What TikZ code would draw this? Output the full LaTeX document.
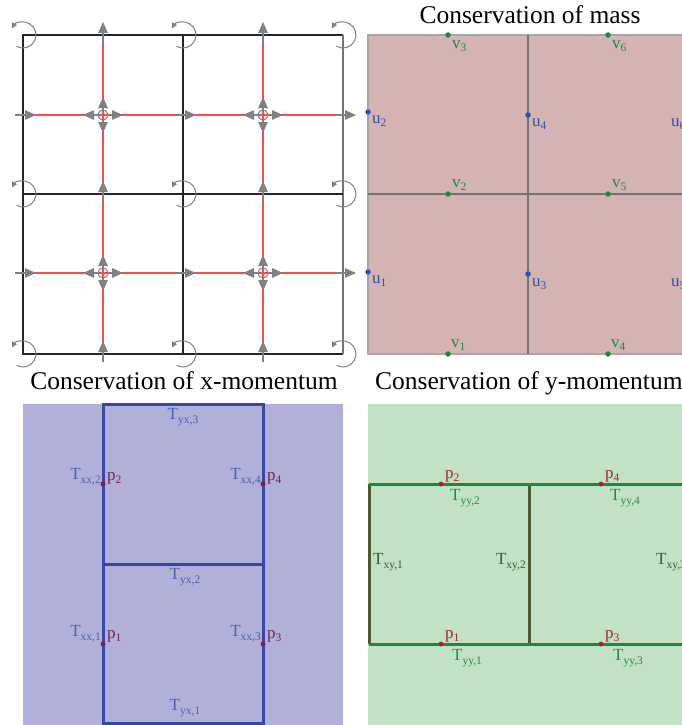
\documentclass[tikz,border=0pt]{standalone}
\usepackage{fontspec}
\setmainfont{Liberation Serif}
\usetikzlibrary{arrows.meta}
\definecolor{redc}{HTML}{FF4A4A}
\definecolor{arrgray}{HTML}{808080}
\definecolor{massfill}{HTML}{D6B3B3}
\definecolor{xfill}{HTML}{B1B0D8}
\definecolor{yfill}{HTML}{C3E1C5}
\definecolor{bluel}{HTML}{3747A8}
\definecolor{greenl}{HTML}{1F8A3C}
\definecolor{olivel}{HTML}{4A5A30}
\definecolor{vcol}{HTML}{1A8A3A}
\definecolor{ucol}{HTML}{3050B0}
\definecolor{pcolx}{HTML}{7A2050}
\definecolor{pcoly}{HTML}{A02828}
\definecolor{tcolx}{HTML}{4A60B0}
\definecolor{tyycol}{HTML}{1E9040}
\definecolor{txycol}{HTML}{4A5530}
\newcommand{\lb}[2]{#1\raisebox{-0.45ex}{\fontsize{11.5}{12}\selectfont #2}}
\begin{document}
\begin{tikzpicture}[x=1pt,y=-1pt,
  redl/.style={draw=redc,line width=1.5pt},
  gridl/.style={draw=black!85,line width=1.6pt},
  earrow/.style={draw=arrgray,line width=1.2pt,-{Triangle[width=9.5pt,length=11pt]}},
  rotarrow/.style={draw=arrgray,line width=1pt,-{Triangle[width=5.5pt,length=5.5pt]}},
  lab/.style={font=\fontsize{17}{19}\selectfont,inner sep=0pt},
  ttl/.style={font=\fontsize{25.5}{28}\selectfont,inner sep=0pt},
  dot/.style={circle,fill,inner sep=0pt,minimum size=5.5pt}]
\useasboundingbox (0,0) rectangle (682,725);
\clip (0,0) rectangle (682,725);
% ---------- top-left grid ----------
\foreach \x in {103,263} \draw[redl] (\x,35) -- (\x,354);
\foreach \y in {115,273} \draw[redl] (23,\y) -- (343,\y);
\draw[gridl] (343,35) -- (23,35) -- (23,354) -- (343,354);
\draw[draw=black!55,line width=1.8pt] (343,35) -- (343,354);
\draw[gridl] (23,194) -- (343,194);
\draw[gridl] (183,35) -- (183,354);
\foreach \x in {103,263} \foreach \y in {35,194,354}
  \draw[earrow] (\x,\y+8) -- (\x,\y-13);
\foreach \x in {23,183,343} \foreach \y in {115,273}
  \draw[earrow] (\x-8,\y) -- (\x+13,\y);
\foreach \x in {103,263} \foreach \y in {115,273} {
  \draw[draw=arrgray,line width=1pt] (\x,\y) circle[radius=5];
  \draw[earrow] (\x,\y-5) -- (\x,\y-18);
  \draw[earrow] (\x,\y+5) -- (\x,\y+18);
  \draw[earrow] (\x-5,\y) -- (\x-20,\y);
  \draw[earrow] (\x+5,\y) -- (\x+20,\y);
}
\foreach \x in {23,183,343} \foreach \y in {35,194,354}
  \draw[rotarrow,shift={(\x,\y)}] (120:13) arc[start angle=120,end angle=-150,radius=13];
% ---------- conservation of mass ----------
\node[ttl] (tmass) at (530,15) {Conservation of mass};
\fill[massfill] (368,35) rectangle (700,354);
\draw[draw=black!35,line width=1.5pt] (700,35) -- (368,35) -- (368,354) -- (700,354);
\draw[draw=black!55,line width=1.5pt] (528,35) -- (528,354);
\draw[draw=black!55,line width=1.5pt] (368,194) -- (700,194);
\foreach \x in {448,608} \foreach \y in {35,194,354}
  \node[dot,vcol] at (\x,\y) {};
\foreach \p in {{368,112},{528,115},{368,272},{528,274}}
  \node[dot,ucol] at (\p) {};
\node[lab,ucol,anchor=west] (u2) at (372,121) {\lb{u}{2}};
\node[lab,ucol,anchor=west] (u4) at (532,124) {\lb{u}{4}};
\node[lab,ucol,anchor=west] (u6) at (671,124) {\lb{u}{6}};
\node[lab,ucol,anchor=west] (u1) at (372,281) {\lb{u}{1}};
\node[lab,ucol,anchor=west] (u3) at (532,284) {\lb{u}{3}};
\node[lab,ucol,anchor=west] (u5) at (671,284) {\lb{u}{5}};
\node[lab,vcol,anchor=west] (v3) at (452,46) {\lb{v}{3}};
\node[lab,vcol,anchor=west] (v6) at (612,46) {\lb{v}{6}};
\node[lab,vcol,anchor=west] (v2) at (452,185) {\lb{v}{2}};
\node[lab,vcol,anchor=west] (v5) at (612,185) {\lb{v}{5}};
\node[lab,vcol,anchor=west] (v1) at (451,345) {\lb{v}{1}};
\node[lab,vcol,anchor=west] (v4) at (611,345) {\lb{v}{4}};
% ---------- conservation of x-momentum ----------
\node[ttl] (txm) at (184,381) {Conservation of x-momentum};
\fill[xfill] (23,404) rectangle (343,730);
\draw[draw=bluel,line width=3pt] (103,730) -- (103,404) -- (263,404) -- (263,730);
\draw[draw=bluel,line width=3pt] (103,564) -- (263,564);
\draw[draw=bluel,line width=3pt] (103,723) -- (263,723);
\foreach \p in {{103,484},{263,484},{103,644},{263,644}}
  \node[dot,pcolx,minimum size=5pt] at (\p) {};
\node[lab,tcolx] (tyx3) at (183,417) {\lb{T}{yx,3}};
\node[lab,tcolx] (tyx2) at (185,577) {\lb{T}{yx,2}};
\node[lab,tcolx] (tyx1) at (185,708) {\lb{T}{yx,1}};
\node[lab,tcolx,anchor=east] (txx2) at (101,477) {\lb{T}{xx,2}};
\node[lab,tcolx,anchor=east] (txx4) at (261,477) {\lb{T}{xx,4}};
\node[lab,tcolx,anchor=east] (txx1) at (101,634) {\lb{T}{xx,1}};
\node[lab,tcolx,anchor=east] (txx3) at (261,634) {\lb{T}{xx,3}};
\node[lab,pcolx,anchor=west] (xp2) at (107,478) {\lb{p}{2}};
\node[lab,pcolx,anchor=west] (xp4) at (267,478) {\lb{p}{4}};
\node[lab,pcolx,anchor=west] (xp1) at (107,636) {\lb{p}{1}};
\node[lab,pcolx,anchor=west] (xp3) at (267,636) {\lb{p}{3}};
% ---------- conservation of y-momentum ----------
\node[ttl,anchor=west] (tym) at (375,383) {Conservation of y-momentum};
\fill[yfill] (368,404) rectangle (700,730);
\foreach \x in {369,529,688} \draw[draw=olivel,line width=3pt] (\x,484) -- (\x,644);
\draw[draw=greenl,line width=3pt] (369,484) -- (700,484);
\draw[draw=greenl,line width=3pt] (369,644) -- (700,644);
\foreach \p in {{441,484},{601,484},{441,644},{601,644}}
  \node[dot,pcoly,minimum size=5pt] at (\p) {};
\node[lab,pcoly,anchor=west] (yp2) at (445,476) {\lb{p}{2}};
\node[lab,pcoly,anchor=west] (yp4) at (605,476) {\lb{p}{4}};
\node[lab,pcoly,anchor=west] (yp1) at (445,636) {\lb{p}{1}};
\node[lab,pcoly,anchor=west] (yp3) at (605,636) {\lb{p}{3}};
\node[lab,tyycol,anchor=west] (tyy2) at (450,498) {\lb{T}{yy,2}};
\node[lab,tyycol,anchor=west] (tyy4) at (610,498) {\lb{T}{yy,4}};
\node[lab,tyycol,anchor=west] (tyy1) at (452,658) {\lb{T}{yy,1}};
\node[lab,tyycol,anchor=west] (tyy3) at (613,658) {\lb{T}{yy,3}};
\node[lab,txycol,anchor=west] (txy1) at (373,562) {\lb{T}{xy,1}};
\node[lab,txycol,anchor=east] (txy2) at (526,562) {\lb{T}{xy,2}};
\node[lab,txycol,anchor=west] (txy3) at (656,562) {\lb{T}{xy,3}};
\end{tikzpicture}
\end{document}
